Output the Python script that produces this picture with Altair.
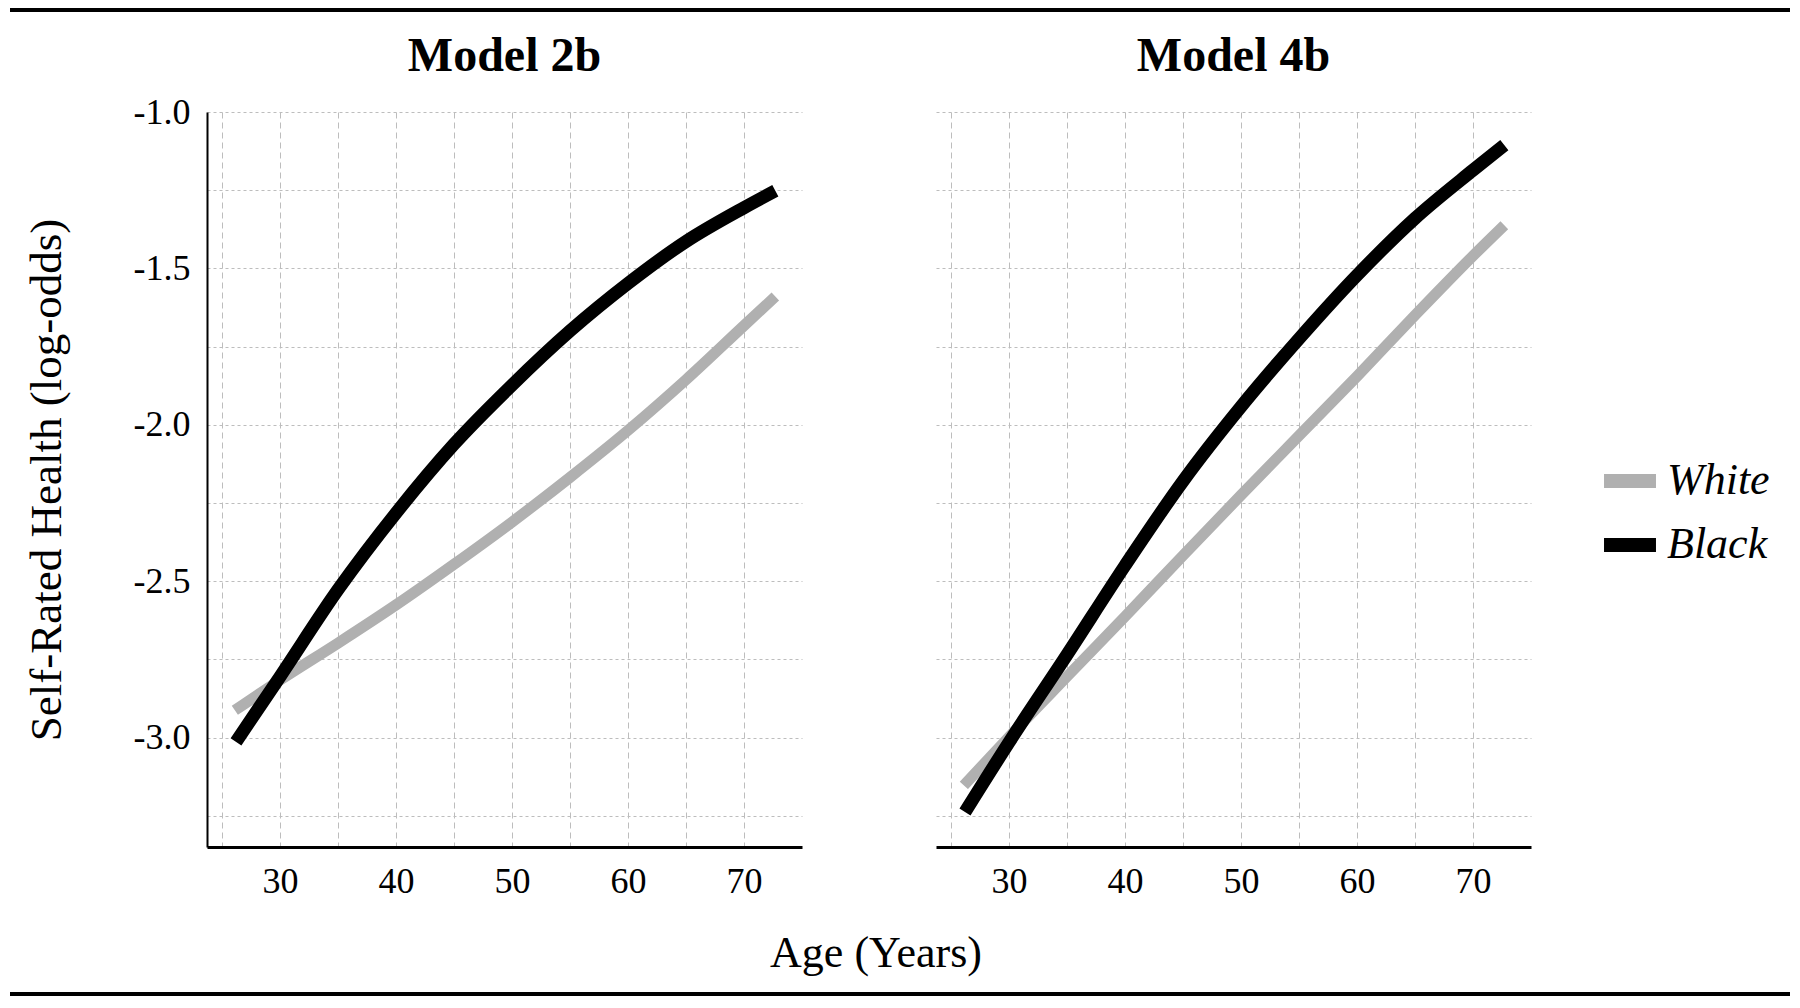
import altair as alt
import pandas as pd

# ---- data ----
panel_titles = ["Model 2b", "Model 4b"]
races = ["White", "Black"]
race_colors = ["#b0b0b0", "#000000"]

age_2b_white = [26.1, 30, 35, 40, 45, 50, 55, 60, 65, 70, 72.7]
srh_2b_white = [-2.913, -2.816, -2.698, -2.576, -2.446, -2.311, -2.168, -2.018, -1.856, -1.683, -1.590]
age_2b_black = [26.2, 30, 35, 40, 45, 50, 55, 60, 65, 70, 72.7]
srh_2b_black = [-3.014, -2.805, -2.527, -2.282, -2.062, -1.873, -1.700, -1.548, -1.414, -1.306, -1.252]

age_4b_white = [26.1, 30, 35, 40, 45, 50, 55, 60, 65, 70, 72.7]
srh_4b_white = [-3.153, -2.998, -2.805, -2.613, -2.418, -2.225, -2.035, -1.845, -1.650, -1.460, -1.362]
age_4b_black = [26.2, 30, 35, 40, 45, 50, 55, 60, 65, 70, 72.7]
srh_4b_black = [-3.238, -3.015, -2.735, -2.450, -2.180, -1.942, -1.725, -1.522, -1.340, -1.186, -1.106]

x_grid = [25, 30, 35, 40, 45, 50, 55, 60, 65, 70]
y_grid = [-3.25, -3.0, -2.75, -2.5, -2.25, -2.0, -1.75, -1.5, -1.25, -1.0]
x_domain = [23.7, 75]
y_domain = [-3.35, -1.0]

x_title = "Age (Years)"
y_title = "Self-Rated Health (log-odds)"

FONT = "Liberation Serif"
W, H = 595, 735
GRID = "#bdbdbd"

color_scale = alt.Scale(domain=races, range=race_colors)


def make_panel(title, a_w, s_w, a_b, s_b, first):
    df_w = pd.DataFrame({"age": a_w, "srh": s_w, "race": "White"})
    df_b = pd.DataFrame({"age": a_b, "srh": s_b, "race": "Black"})

    x_enc = alt.X(
        "age:Q",
        scale=alt.Scale(domain=x_domain, nice=False, zero=False),
        axis=alt.Axis(
            values=x_grid,
            labelExpr="datum.value % 10 == 0 ? datum.value + '' : ''",
            title=None,
            grid=True,
            gridDash=[6, 4],
            gridColor=GRID,
            gridWidth=1,
            domain=True,
            domainColor="black",
            domainWidth=3,
            ticks=False,
            tickSize=0,
            labelPadding=17,
            labelFont=FONT,
            labelFontSize=36,
            labelColor="black",
        ),
    )
    if first:
        y_axis = alt.Axis(
            values=y_grid,
            labelExpr="datum.value * 2 == round(datum.value * 2) ? '-' + format(abs(datum.value), '.1f') : ''",
            title=y_title,
            titleX=-147,
            titleY=H / 2,
            titleAngle=270,
            titleBaseline="alphabetic",
            titleAlign="center",
            titleFont=FONT,
            titleFontSize=45,
            titleFontWeight="normal",
            titleColor="black",
            grid=True,
            gridDash=[3, 3],
            gridColor=GRID,
            gridWidth=1,
            domain=True,
            domainColor="black",
            domainWidth=2,
            ticks=False,
            tickSize=0,
            labelPadding=17,
            labelFont=FONT,
            labelFontSize=36,
            labelColor="black",
        )
    else:
        y_axis = alt.Axis(
            values=y_grid,
            title=None,
            labels=False,
            domain=False,
            ticks=False,
            tickSize=0,
            grid=True,
            gridDash=[3, 3],
            gridColor=GRID,
            gridWidth=1,
        )
    y_enc = alt.Y("srh:Q", scale=alt.Scale(domain=y_domain, nice=False, zero=False), axis=y_axis)

    if first:
        legend = alt.Legend(
            title=None,
            orient="none",
            legendX=1390,
            legendY=336,
            symbolType="stroke",
            symbolStrokeWidth=14,
            symbolSize=2700,
            labelFont=FONT,
            labelFontStyle="italic",
            labelFontSize=44,
            labelColor="black",
            labelOffset=4,
            rowPadding=3,
            padding=0,
        )
    else:
        legend = None

    white = alt.Chart(df_w).mark_line(strokeWidth=11, strokeCap="butt", interpolate="monotone").encode(
        x=x_enc, y=y_enc, color=alt.Color("race:N", scale=color_scale, legend=legend),
        order=alt.Order("age:Q"),
    )
    black = alt.Chart(df_b).mark_line(strokeWidth=13, strokeCap="butt", interpolate="monotone").encode(
        x="age:Q", y="srh:Q", color=alt.Color("race:N", scale=color_scale, legend=None),
        order=alt.Order("age:Q"),
    )
    ttl = alt.Chart(pd.DataFrame({"t": [title]})).mark_text(
        font=FONT, fontSize=48, fontWeight="bold", baseline="alphabetic", align="center", color="black"
    ).encode(text="t:N", x=alt.value(W / 2), y=alt.value(-41))

    layers = [white, black, ttl]
    if first:
        xt = alt.Chart(pd.DataFrame({"t": [x_title]})).mark_text(
            font=FONT, fontSize=44, baseline="alphabetic", align="center", color="black"
        ).encode(text="t:N", x=alt.value(669), y=alt.value(855))
        rule_df = pd.DataFrame({"r": [0]})
        top_rule = alt.Chart(rule_df).mark_rule(color="black", strokeWidth=4).encode(
            x=alt.value(-197), x2=alt.value(1583), y=alt.value(-102)
        )
        bottom_rule = alt.Chart(rule_df).mark_rule(color="black", strokeWidth=4).encode(
            x=alt.value(-197), x2=alt.value(1583), y=alt.value(882)
        )
        layers += [xt, top_rule, bottom_rule]

    return alt.layer(*layers).properties(width=W, height=H)


left = make_panel(panel_titles[0], age_2b_white, srh_2b_white, age_2b_black, srh_2b_black, True)
right = make_panel(panel_titles[1], age_4b_white, srh_4b_white, age_4b_black, srh_4b_black, False)

chart = (
    alt.hconcat(left, right, spacing=134, bounds="flush")
    .resolve_scale(color="shared")
    .properties(padding=0, background="white")
    .configure_view(stroke=None)
)

chart.save("out.html", embed_options={"renderer": "svg", "actions": False})
